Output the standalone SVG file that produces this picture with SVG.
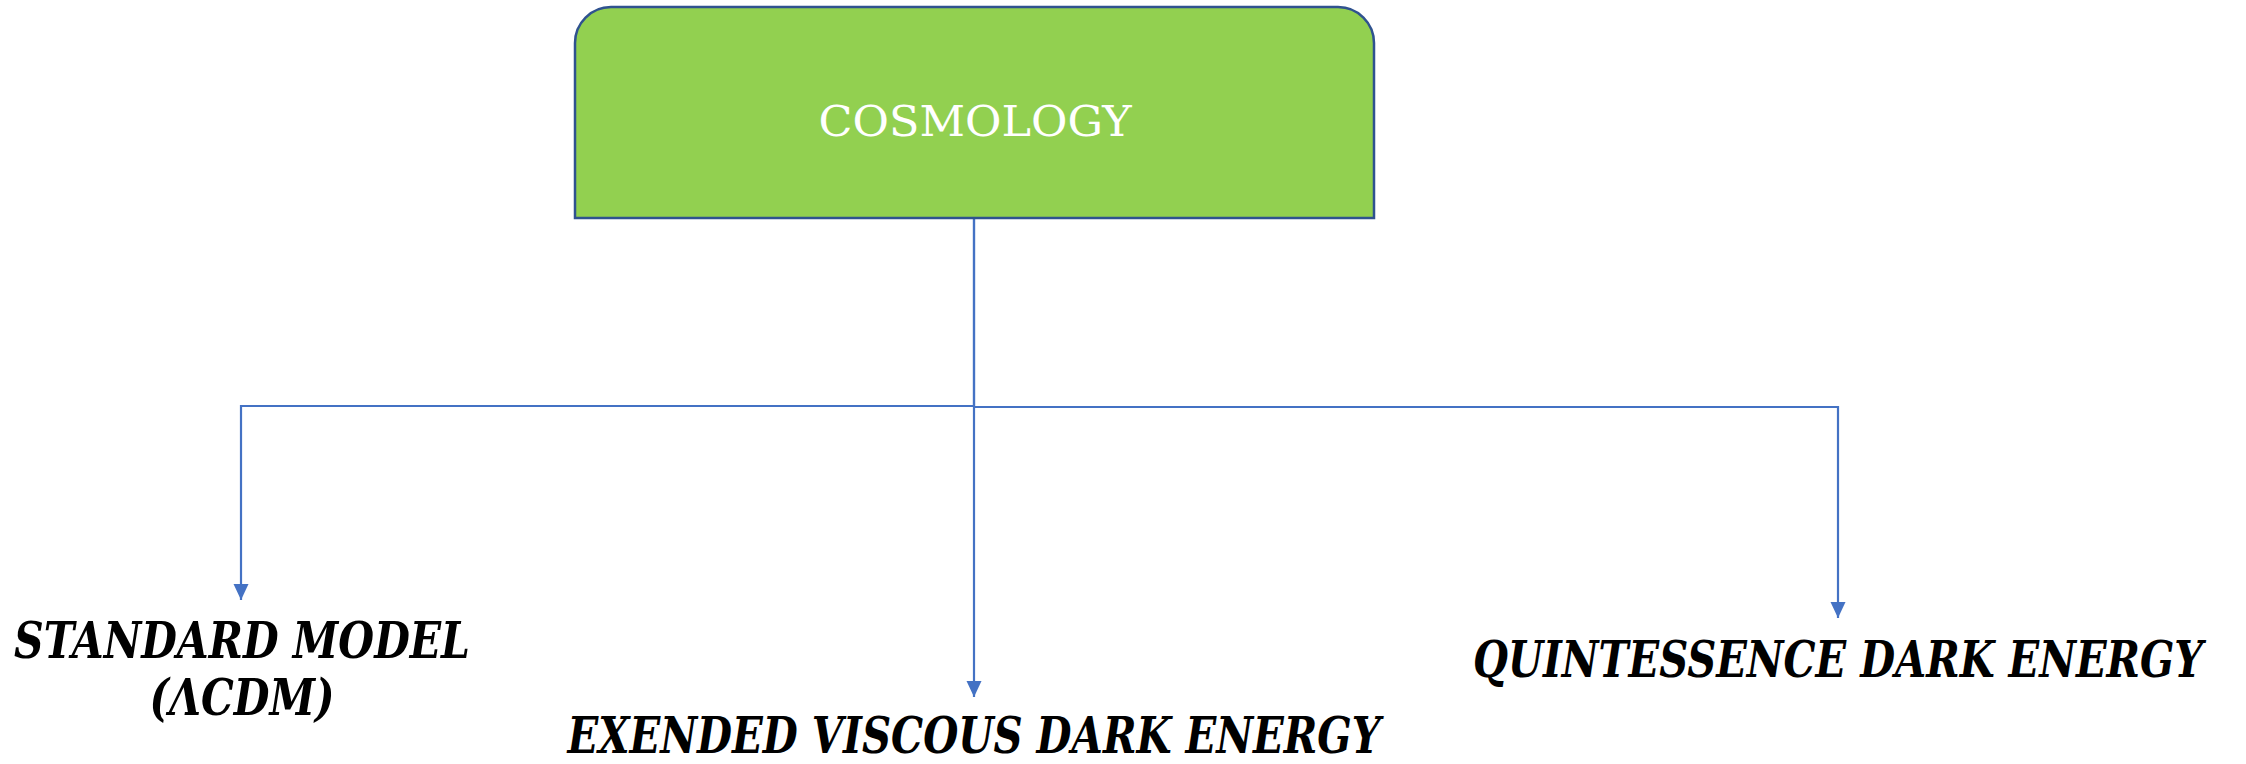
<svg xmlns="http://www.w3.org/2000/svg" width="2246" height="764" viewBox="0 0 2246 764">
<style>
.box{fill:#92D050;stroke:#2F528F;stroke-width:2.5}
.title{font-family:"DejaVu Serif","Liberation Serif",serif;font-size:43px;fill:#FFFFFF;text-anchor:middle}
.lbl{font-family:"DejaVu Serif Condensed","DejaVu Serif","Liberation Serif",serif;font-weight:bold;font-style:italic;font-size:51px;fill:#000000;text-anchor:middle}
.conn{fill:none;stroke:#4472C4;stroke-width:2.2}
</style>
<defs>
<marker id="arrow" viewBox="0 0 16 16" refX="16" refY="8" markerWidth="16" markerHeight="16" orient="auto" markerUnits="userSpaceOnUse">
<path d="M0,0.5 L16,8 L0,15.5 Z" fill="#4472C4"/>
</marker>
</defs>
<g id="connectors">
<path class="conn" d="M974,218 V406 H241 V600" marker-end="url(#arrow)"/>
<path class="conn" d="M974,218 V697" marker-end="url(#arrow)"/>
<path class="conn" d="M974,407 H1838 V618" marker-end="url(#arrow)"/>
</g>
<g id="cosmology">
<path class="box" d="M575,218 V43 A36,36 0 0 1 611,7 H1338 A36,36 0 0 1 1374,43 V218 Z"/>
<text class="title" x="975" y="136" textLength="313" lengthAdjust="spacingAndGlyphs">COSMOLOGY</text>
</g>
<g id="standard-model">
<text class="lbl" x="242" y="658" textLength="456" lengthAdjust="spacingAndGlyphs">STANDARD MODEL</text>
<text class="lbl" x="242" y="715" textLength="185" lengthAdjust="spacingAndGlyphs">(ΛCDM)</text>
</g>
<g id="viscous">
<text class="lbl" x="974" y="753" textLength="813" lengthAdjust="spacingAndGlyphs">EXENDED VISCOUS DARK ENERGY</text>
</g>
<g id="quintessence">
<text class="lbl" x="2203" y="677" text-anchor="end" style="text-anchor:end" textLength="730" lengthAdjust="spacingAndGlyphs">QUINTESSENCE DARK ENERGY</text>
</g>
</svg>
